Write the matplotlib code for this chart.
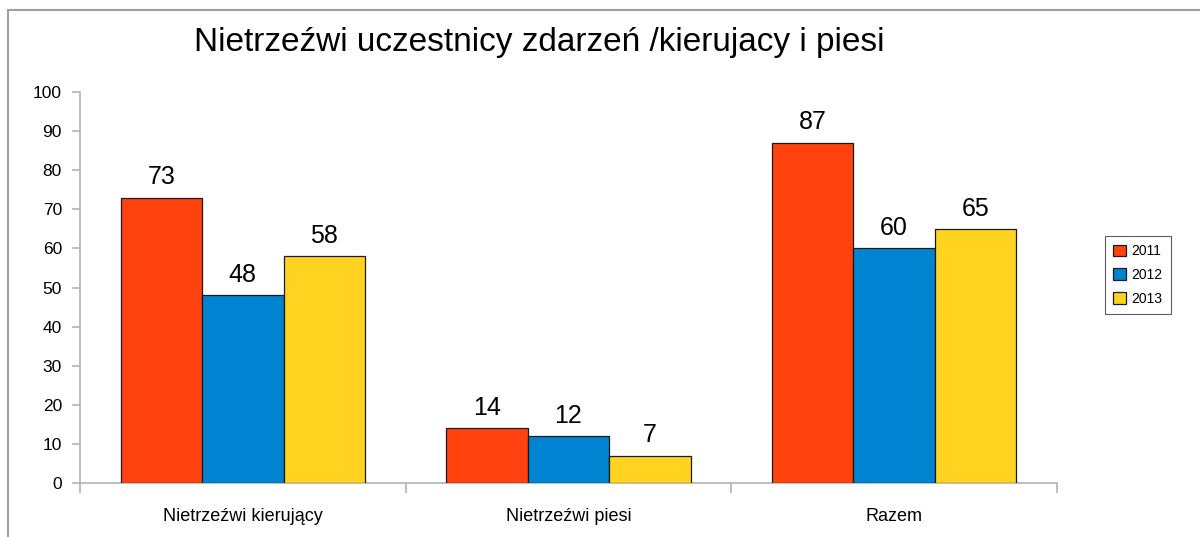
import numpy as np
import matplotlib
matplotlib.use("Agg")
import matplotlib.pyplot as plt
from matplotlib.lines import Line2D

categories = ["Nietrzeźwi kierujący", "Nietrzeźwi piesi", "Razem"]
years = ["2011", "2012", "2013"]
v2011 = [73, 14, 87]
v2012 = [48, 12, 60]
v2013 = [58, 7, 65]
colors = ["#FF420E", "#0084D1", "#FFD320"]

plt.rcParams["font.family"] = ["Liberation Sans", "DejaVu Sans"]

fig = plt.figure(figsize=(12, 5.37), dpi=100)
ax = fig.add_axes([80 / 1200, 54 / 537, 977 / 1200, 391 / 537])

x = np.arange(len(categories))
w = 0.25
for i, (vals, yr) in enumerate(zip([v2011, v2012, v2013], years)):
    bars = ax.bar(x + (i - 1) * w, vals, w, color=colors[i], edgecolor="#1a1a1a",
                  linewidth=0.9, label=yr, zorder=3)
    for b, v in zip(bars, vals):
        ax.annotate(str(v), (b.get_x() + b.get_width() / 2, v), xytext=(0, 6),
                    textcoords="offset points", ha="center", va="bottom", fontsize=18)

ax.set_xlim(-0.5, 2.5)
ax.set_ylim(0, 100)
ax.set_yticks(range(0, 101, 10))
ax.set_xticks(x)
ax.set_xticklabels(categories, fontsize=13)
ax.set_xticks([-0.5, 0.5, 1.5, 2.5], minor=True)
ax.tick_params(axis="x", which="major", length=0, pad=18)
ax.tick_params(axis="x", which="minor", length=7, color="#b3b3b3", width=1.2)
ax.tick_params(axis="y", length=6, color="#b3b3b3", width=1.2, labelsize=12.5, pad=7)

for s in ["top", "right"]:
    ax.spines[s].set_visible(False)
for s in ["left", "bottom"]:
    ax.spines[s].set_color("#b3b3b3")
    ax.spines[s].set_linewidth(1.2)

fig.text(539 / 1200, 1 - 43 / 537, "Nietrzeźwi uczestnicy zdarzeń /kierujacy i piesi",
         ha="center", va="center", fontsize=24)

leg = fig.legend(loc="center", bbox_to_anchor=(1138 / 1200, 1 - 275 / 537), fontsize=10,
                 frameon=True, fancybox=False, handlelength=0.9, handleheight=0.9,
                 handletextpad=0.4, labelspacing=0.7, borderpad=0.6)
leg.get_frame().set_edgecolor("#333333")
leg.get_frame().set_linewidth(0.8)

# outer frame (top and left edges)
fig.add_artist(Line2D([8 / 1200, 1], [1 - 10 / 537, 1 - 10 / 537], color="#a0a0a0", lw=1.5,
                      transform=fig.transFigure))
fig.add_artist(Line2D([8 / 1200, 8 / 1200], [0, 1 - 10 / 537], color="#a0a0a0", lw=1.5,
                      transform=fig.transFigure))

fig.savefig("out.png", dpi=100)
